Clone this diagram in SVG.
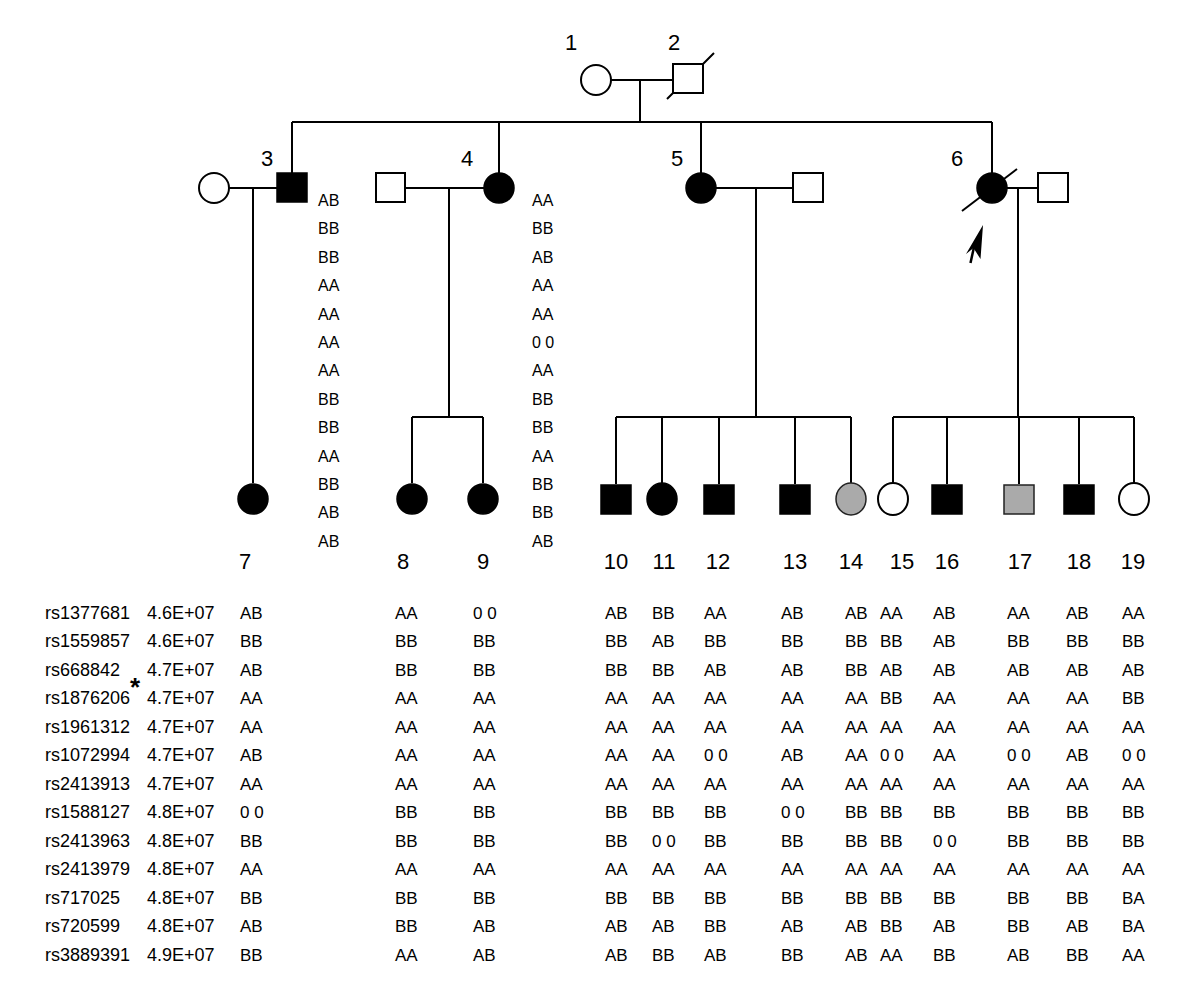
<svg xmlns="http://www.w3.org/2000/svg" width="1200" height="999" viewBox="0 0 1200 999">
<style>
.ln{stroke:#000;stroke-width:2;fill:none}
.m{fill:#fff;stroke:#000;stroke-width:2}
.a{fill:#000;stroke:#000;stroke-width:1.5}
.g{fill:#aaa;stroke:#222;stroke-width:1.5}
.num{font-family:"Liberation Sans",Arial,sans-serif;font-size:22px;fill:#000;text-anchor:middle}
.gt{font-family:"Liberation Sans",Arial,sans-serif;font-size:16px;fill:#000}
.tb{font-family:"Liberation Sans",Arial,sans-serif;font-size:17px;fill:#000}
.rs{font-family:"Liberation Sans",Arial,sans-serif;font-size:18px;fill:#000}
</style>
<rect width="1200" height="999" fill="#fff"/>
<g id="connectors" class="ln">
<path d="M611 80H673M640 80V122M292 122H992"/>
<path d="M292 122V173M499 122V173M701 122V173M992 122V173"/>
<path d="M229 188H277M253 188V483"/>
<path d="M405 188H484M449 188V417M412 417H483M412 417V483M483 417V483"/>
<path d="M716 188H793M756 188V417M616 417H851M616 417V484M662 417V483M719 417V484M795 417V484M851 417V483"/>
<path d="M1007 188H1038M1018 188V417M893 417H1134M893 417V483M947 417V484M1019 417V484M1079 417V484M1134 417V483"/>
</g>
<g id="n1"><circle class="m" cx="596" cy="80" r="15"/><text class="num" x="571" y="50">1</text></g>
<g id="n2"><rect class="m" x="673" y="64" width="30" height="29"/><path class="ln" d="M667 99L673 93M703 64L714 53"/><text class="num" x="674" y="50">2</text></g>
<g id="n3spouse"><circle class="m" cx="214" cy="188" r="15"/></g>
<g id="n3"><rect class="a" x="277" y="173" width="30" height="29"/><text class="num" x="267" y="166">3</text></g>
<g id="n4spouse"><rect class="m" x="376" y="173" width="29" height="29"/></g>
<g id="n4"><circle class="a" cx="499" cy="188" r="15"/><text class="num" x="467" y="166">4</text></g>
<g id="n5"><circle class="a" cx="701" cy="188" r="15"/><text class="num" x="677" y="166">5</text></g>
<g id="n5spouse"><rect class="m" x="793" y="173" width="30" height="29"/></g>
<g id="n6"><circle class="a" cx="992" cy="188" r="15"/><path class="ln" d="M962 211L1017 169"/><text class="num" x="957" y="166">6</text>
<path d="M974 247L970.5 263" stroke="#000" stroke-width="2.5" fill="none"/><polygon points="983,225 966,254 973.5,248 980.5,259" fill="#000"/></g>
<g id="n6spouse"><rect class="m" x="1038" y="173" width="30" height="29"/></g>
<g id="n7"><circle class="a" cx="253" cy="499" r="15"/><text class="num" x="245" y="569">7</text></g>
<g id="n8"><circle class="a" cx="412" cy="499" r="15"/><text class="num" x="403" y="569">8</text></g>
<g id="n9"><circle class="a" cx="483" cy="499" r="15"/><text class="num" x="483" y="569">9</text></g>
<g id="n10"><rect class="a" x="601" y="485" width="30" height="29"/><text class="num" x="616" y="569">10</text></g>
<g id="n11"><ellipse class="a" cx="662" cy="499" rx="15" ry="16"/><text class="num" x="664" y="569">11</text></g>
<g id="n12"><rect class="a" x="704" y="485" width="30" height="29"/><text class="num" x="718" y="569">12</text></g>
<g id="n13"><rect class="a" x="780" y="485" width="30" height="29"/><text class="num" x="795" y="569">13</text></g>
<g id="n14"><ellipse class="g" cx="851" cy="499" rx="15" ry="16"/><text class="num" x="851" y="569">14</text></g>
<g id="n15"><ellipse class="m" cx="893" cy="499" rx="15" ry="16"/><text class="num" x="902" y="569">15</text></g>
<g id="n16"><rect class="a" x="932" y="485" width="30" height="29"/><text class="num" x="947" y="569">16</text></g>
<g id="n17"><rect class="g" x="1004" y="485" width="30" height="29"/><text class="num" x="1020" y="569">17</text></g>
<g id="n18"><rect class="a" x="1064" y="485" width="30" height="29"/><text class="num" x="1079" y="569">18</text></g>
<g id="n19"><ellipse class="m" cx="1134" cy="499" rx="15" ry="16"/><text class="num" x="1133" y="569">19</text></g>
<g id="geno3" class="gt">
<text x="318" y="206">AB</text><text x="318" y="234.4">BB</text><text x="318" y="262.8">BB</text><text x="318" y="291.2">AA</text><text x="318" y="319.6">AA</text><text x="318" y="348">AA</text><text x="318" y="376.4">AA</text><text x="318" y="404.8">BB</text><text x="318" y="433.2">BB</text><text x="318" y="461.6">AA</text><text x="318" y="490">BB</text><text x="318" y="518.4">AB</text><text x="318" y="546.8">AB</text>
</g>
<g id="geno4" class="gt">
<text x="532" y="206">AA</text><text x="532" y="234.4">BB</text><text x="532" y="262.8">AB</text><text x="532" y="291.2">AA</text><text x="532" y="319.6">AA</text><text x="532" y="348">0 0</text><text x="532" y="376.4">AA</text><text x="532" y="404.8">BB</text><text x="532" y="433.2">BB</text><text x="532" y="461.6">AA</text><text x="532" y="490">BB</text><text x="532" y="518.4">BB</text><text x="532" y="546.8">AB</text>
</g>
<g id="table-names" class="rs">
<text x="45" y="618.5">rs1377681</text><text x="45" y="647">rs1559857</text><text x="45" y="675.5">rs668842</text><text x="45" y="704">rs1876206</text><text x="45" y="732.5">rs1961312</text><text x="45" y="761">rs1072994</text><text x="45" y="789.5">rs2413913</text><text x="45" y="818">rs1588127</text><text x="45" y="846.5">rs2413963</text><text x="45" y="875">rs2413979</text><text x="45" y="903.5">rs717025</text><text x="45" y="932">rs720599</text><text x="45" y="960.5">rs3889391</text>
<text x="147" y="618.5">4.6E+07</text><text x="147" y="647">4.6E+07</text><text x="147" y="675.5">4.7E+07</text><text x="147" y="704">4.7E+07</text><text x="147" y="732.5">4.7E+07</text><text x="147" y="761">4.7E+07</text><text x="147" y="789.5">4.7E+07</text><text x="147" y="818">4.8E+07</text><text x="147" y="846.5">4.8E+07</text><text x="147" y="875">4.8E+07</text><text x="147" y="903.5">4.8E+07</text><text x="147" y="932">4.8E+07</text><text x="147" y="960.5">4.9E+07</text>
<text x="130" y="696" font-size="26" font-weight="bold">*</text>
</g>
<g id="table-genotypes" class="tb">
<text y="618.5"><tspan x="240">AB</tspan><tspan x="395">AA</tspan><tspan x="473">0 0</tspan><tspan x="605">AB</tspan><tspan x="652">BB</tspan><tspan x="704">AA</tspan><tspan x="781">AB</tspan><tspan x="845">AB</tspan><tspan x="880">AA</tspan><tspan x="933">AB</tspan><tspan x="1007">AA</tspan><tspan x="1066">AB</tspan><tspan x="1122">AA</tspan></text>
<text y="647"><tspan x="240">BB</tspan><tspan x="395">BB</tspan><tspan x="473">BB</tspan><tspan x="605">BB</tspan><tspan x="652">AB</tspan><tspan x="704">BB</tspan><tspan x="781">BB</tspan><tspan x="845">BB</tspan><tspan x="880">BB</tspan><tspan x="933">AB</tspan><tspan x="1007">BB</tspan><tspan x="1066">BB</tspan><tspan x="1122">BB</tspan></text>
<text y="675.5"><tspan x="240">AB</tspan><tspan x="395">BB</tspan><tspan x="473">BB</tspan><tspan x="605">BB</tspan><tspan x="652">BB</tspan><tspan x="704">AB</tspan><tspan x="781">AB</tspan><tspan x="845">BB</tspan><tspan x="880">AB</tspan><tspan x="933">AB</tspan><tspan x="1007">AB</tspan><tspan x="1066">AB</tspan><tspan x="1122">AB</tspan></text>
<text y="704"><tspan x="240">AA</tspan><tspan x="395">AA</tspan><tspan x="473">AA</tspan><tspan x="605">AA</tspan><tspan x="652">AA</tspan><tspan x="704">AA</tspan><tspan x="781">AA</tspan><tspan x="845">AA</tspan><tspan x="880">BB</tspan><tspan x="933">AA</tspan><tspan x="1007">AA</tspan><tspan x="1066">AA</tspan><tspan x="1122">BB</tspan></text>
<text y="732.5"><tspan x="240">AA</tspan><tspan x="395">AA</tspan><tspan x="473">AA</tspan><tspan x="605">AA</tspan><tspan x="652">AA</tspan><tspan x="704">AA</tspan><tspan x="781">AA</tspan><tspan x="845">AA</tspan><tspan x="880">AA</tspan><tspan x="933">AA</tspan><tspan x="1007">AA</tspan><tspan x="1066">AA</tspan><tspan x="1122">AA</tspan></text>
<text y="761"><tspan x="240">AB</tspan><tspan x="395">AA</tspan><tspan x="473">AA</tspan><tspan x="605">AA</tspan><tspan x="652">AA</tspan><tspan x="704">0 0</tspan><tspan x="781">AB</tspan><tspan x="845">AA</tspan><tspan x="880">0 0</tspan><tspan x="933">AA</tspan><tspan x="1007">0 0</tspan><tspan x="1066">AB</tspan><tspan x="1122">0 0</tspan></text>
<text y="789.5"><tspan x="240">AA</tspan><tspan x="395">AA</tspan><tspan x="473">AA</tspan><tspan x="605">AA</tspan><tspan x="652">AA</tspan><tspan x="704">AA</tspan><tspan x="781">AA</tspan><tspan x="845">AA</tspan><tspan x="880">AA</tspan><tspan x="933">AA</tspan><tspan x="1007">AA</tspan><tspan x="1066">AA</tspan><tspan x="1122">AA</tspan></text>
<text y="818"><tspan x="240">0 0</tspan><tspan x="395">BB</tspan><tspan x="473">BB</tspan><tspan x="605">BB</tspan><tspan x="652">BB</tspan><tspan x="704">BB</tspan><tspan x="781">0 0</tspan><tspan x="845">BB</tspan><tspan x="880">BB</tspan><tspan x="933">BB</tspan><tspan x="1007">BB</tspan><tspan x="1066">BB</tspan><tspan x="1122">BB</tspan></text>
<text y="846.5"><tspan x="240">BB</tspan><tspan x="395">BB</tspan><tspan x="473">BB</tspan><tspan x="605">BB</tspan><tspan x="652">0 0</tspan><tspan x="704">BB</tspan><tspan x="781">BB</tspan><tspan x="845">BB</tspan><tspan x="880">BB</tspan><tspan x="933">0 0</tspan><tspan x="1007">BB</tspan><tspan x="1066">BB</tspan><tspan x="1122">BB</tspan></text>
<text y="875"><tspan x="240">AA</tspan><tspan x="395">AA</tspan><tspan x="473">AA</tspan><tspan x="605">AA</tspan><tspan x="652">AA</tspan><tspan x="704">AA</tspan><tspan x="781">AA</tspan><tspan x="845">AA</tspan><tspan x="880">AA</tspan><tspan x="933">AA</tspan><tspan x="1007">AA</tspan><tspan x="1066">AA</tspan><tspan x="1122">AA</tspan></text>
<text y="903.5"><tspan x="240">BB</tspan><tspan x="395">BB</tspan><tspan x="473">BB</tspan><tspan x="605">BB</tspan><tspan x="652">BB</tspan><tspan x="704">BB</tspan><tspan x="781">BB</tspan><tspan x="845">BB</tspan><tspan x="880">BB</tspan><tspan x="933">BB</tspan><tspan x="1007">BB</tspan><tspan x="1066">BB</tspan><tspan x="1122">BA</tspan></text>
<text y="932"><tspan x="240">AB</tspan><tspan x="395">BB</tspan><tspan x="473">AB</tspan><tspan x="605">AB</tspan><tspan x="652">AB</tspan><tspan x="704">BB</tspan><tspan x="781">AB</tspan><tspan x="845">AB</tspan><tspan x="880">BB</tspan><tspan x="933">AB</tspan><tspan x="1007">BB</tspan><tspan x="1066">AB</tspan><tspan x="1122">BA</tspan></text>
<text y="960.5"><tspan x="240">BB</tspan><tspan x="395">AA</tspan><tspan x="473">AB</tspan><tspan x="605">AB</tspan><tspan x="652">BB</tspan><tspan x="704">AB</tspan><tspan x="781">BB</tspan><tspan x="845">AB</tspan><tspan x="880">AA</tspan><tspan x="933">BB</tspan><tspan x="1007">AB</tspan><tspan x="1066">BB</tspan><tspan x="1122">AA</tspan></text>
</g>
</svg>
